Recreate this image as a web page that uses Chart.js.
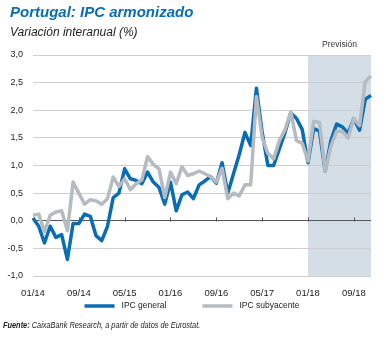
<!DOCTYPE html>
<html>
<head>
<meta charset="utf-8">
<script src="https://cdn.jsdelivr.net/npm/chart.js@4.4.1/dist/chart.umd.min.js"></script>
<style>
  body { margin: 0; background: #fff; }
  #wrap { position: relative; width: 388px; height: 338px; overflow: hidden; font-family: "Liberation Sans", Arial, sans-serif; }
  #title { position: absolute; left: 10px; top: 3px; font-weight: bold; font-style: italic; font-size: 15px; color: #0a6db4; white-space: nowrap; }
  #subtitle { position: absolute; left: 10px; top: 25px; font-style: italic; font-size: 12px; color: #222; white-space: nowrap; }
  #source { position: absolute; left: 3px; top: 320px; font-style: italic; font-size: 9px; color: #222; white-space: nowrap; transform: scaleX(0.82); transform-origin: left top; }
  #chartBox { position: absolute; left: 0; top: 0; width: 388px; height: 338px; }
</style>
</head>
<body>
<div id="wrap">
  <div id="chartBox"><canvas id="ipc"></canvas></div>
  <div id="title">Portugal: IPC armonizado</div>
  <div id="subtitle">Variación interanual (%)</div>
  <div id="source"><b>Fuente:</b> CaixaBank Research, a partir de datos de Eurostat.</div>
</div>
<script>
// monthly categories 01/14 .. 12/18
const months = [];
for (let y = 14; y <= 18; y++) {
  for (let m = 1; m <= 12; m++) months.push(String(m).padStart(2, '0') + '/' + y);
}

const ipcGeneral = [
  0.05, -0.1, -0.4, -0.1, -0.3, -0.25, -0.7, -0.05, -0.05, 0.12, 0.08, -0.27,
  -0.36, -0.1, 0.42, 0.5, 0.94, 0.76, 0.73, 0.67, 0.88, 0.7, 0.6, 0.3,
  0.7, 0.18, 0.47, 0.52, 0.4, 0.65, 0.72, 0.8, 0.68, 1.05, 0.5, 0.85,
  1.2, 1.6, 1.36, 2.4, 1.6, 1.0, 1.0, 1.3, 1.6, 1.95, 1.85, 1.65,
  1.05, 1.67, 1.62, 0.9, 1.45, 1.75, 1.7, 1.58, 1.85, 1.64, 2.2, 2.27
];

const ipcSubyacente = [
  0.1, 0.12, -0.2, 0.1, 0.16, 0.18, -0.18, 0.7, 0.5, 0.3, 0.38, 0.36,
  0.3, 0.4, 0.79, 0.62, 0.76, 0.56, 0.67, 0.74, 1.16, 1.02, 0.94, 0.42,
  0.88, 0.67, 0.98, 0.82, 0.85, 0.9, 0.85, 0.8, 0.7, 0.95, 0.4, 0.5,
  0.45, 0.65, 0.65, 2.25, 1.5, 1.22, 1.12, 1.45, 1.65, 1.97, 1.45, 1.4,
  1.08, 1.8, 1.78, 0.9, 1.35, 1.62, 1.62, 1.5, 1.85, 1.72, 2.52, 2.62
];

const forecastFrom = '01/18';
const labelEvery = 8;

const BLUE = '#0a6db4';
const GREY = '#b5bbc0';
const FONT = '"Liberation Sans", Arial, sans-serif';

// shaded forecast band + its caption
const forecastBand = {
  id: 'forecastBand',
  beforeDraw(chart) {
    const { ctx, chartArea: a, scales: { x } } = chart;
    const x0 = x.getPixelForValue(months.indexOf(forecastFrom));
    ctx.save();
    ctx.fillStyle = '#d3dee6';
    ctx.fillRect(x0, a.top, a.right - x0, a.bottom - a.top);
    ctx.fillStyle = '#333';
    ctx.font = '8.5px ' + FONT;
    ctx.textAlign = 'center';
    ctx.textBaseline = 'middle';
    ctx.fillText('Previsión', (x0 + a.right) / 2, 45);
    ctx.restore();
  }
};

// small tick marks on the zero line
const zeroTicks = {
  id: 'zeroTicks',
  beforeDatasetsDraw(chart) {
    const { ctx, scales: { x, y } } = chart;
    const y0 = Math.round(y.getPixelForValue(0)) + 0.5;
    ctx.save();
    ctx.strokeStyle = '#555';
    ctx.lineWidth = 1;
    ctx.beginPath();
    for (let i = labelEvery; i < months.length; i += labelEvery) {
      const px = Math.round(x.getPixelForValue(i)) + 0.5;
      ctx.moveTo(px, y0);
      ctx.lineTo(px, y0 - 4);
    }
    ctx.stroke();
    ctx.restore();
  }
};

// line-sample legend under the axis
const lineLegend = {
  id: 'lineLegend',
  afterDraw(chart) {
    const ctx = chart.ctx;
    const sets = chart.data.datasets;
    const sample = 30, gap = 7, space = 36, cy = 306;
    ctx.save();
    ctx.font = '8.5px ' + FONT;
    const widths = sets.map(d => ctx.measureText(d.label).width);
    const total = widths.reduce((s, w) => s + sample + gap + w, 0) + space * (sets.length - 1);
    let x = 192 - total / 2;
    sets.forEach((d, i) => {
      ctx.strokeStyle = d.borderColor;
      ctx.lineWidth = 3.5;
      ctx.beginPath();
      ctx.moveTo(x, cy);
      ctx.lineTo(x + sample, cy);
      ctx.stroke();
      ctx.fillStyle = '#222';
      ctx.textBaseline = 'middle';
      ctx.fillText(d.label, x + sample + gap, cy);
      x += sample + gap + widths[i] + space;
    });
    ctx.restore();
  }
};

new Chart(document.getElementById('ipc'), {
  type: 'line',
  data: {
    labels: months,
    datasets: [
      {
        label: 'IPC general',
        data: ipcGeneral,
        borderColor: BLUE,
        backgroundColor: BLUE,
        borderWidth: 3.5,
        pointRadius: 0,
        tension: 0,
        borderJoinStyle: 'round',
        order: 1
      },
      {
        label: 'IPC subyacente',
        data: ipcSubyacente,
        borderColor: GREY,
        backgroundColor: GREY,
        borderWidth: 3.5,
        pointRadius: 0,
        tension: 0,
        borderJoinStyle: 'round',
        order: 0
      }
    ]
  },
  options: {
    responsive: true,
    maintainAspectRatio: false,
    animation: false,
    events: [],
    layout: { padding: { top: 55, right: 17, left: 0, bottom: 40 } },
    plugins: {
      legend: { display: false },
      tooltip: { enabled: false }
    },
    scales: {
      x: {
        offset: false,
        grid: { display: false },
        border: { display: false },
        ticks: {
          autoSkip: false,
          maxRotation: 0,
          padding: 4,
          color: '#222',
          font: { family: FONT, size: 9.5 },
          callback: (v, i) => (i % labelEvery === 0 ? months[i] : null)
        },
        afterFit: s => { s.height = 22; }
      },
      y: {
        min: -1,
        max: 3,
        border: { display: false },
        grid: {
          drawTicks: false,
          color: c => (c.tick && c.tick.value === 0 ? '#555' : '#cfcfcf'),
          lineWidth: 1
        },
        ticks: {
          stepSize: 0.5,
          padding: 10,
          color: '#222',
          font: { family: FONT, size: 9 },
          callback: v => v.toFixed(1).replace('.', ',')
        },
        afterFit: s => { s.width = 33; }
      }
    }
  },
  plugins: [forecastBand, zeroTicks, lineLegend]
});
</script>
</body>
</html>
